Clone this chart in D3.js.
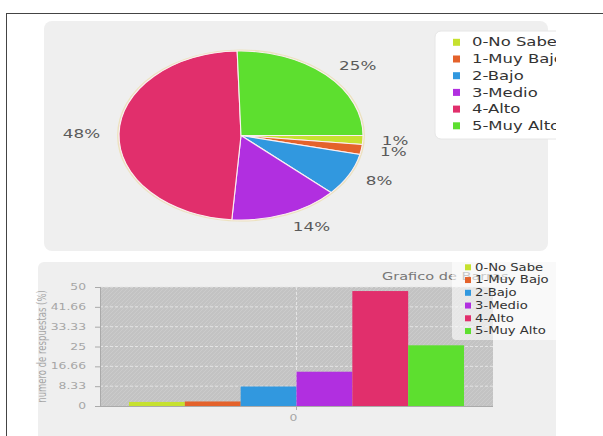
<!DOCTYPE html>
<html>
<head>
<meta charset="utf-8">
<script src="https://cdn.jsdelivr.net/npm/d3@7"></script>
<style>
  html, body { margin: 0; padding: 0; background: #fff; }
  svg { display: block; font-family: "DejaVu Sans", Verdana, sans-serif; }
</style>
</head>
<body>
<svg id="chart" width="603" height="436"></svg>
<script>
// ---- data ----
const categories = ["0-No Sabe", "1-Muy Bajo", "2-Bajo", "3-Medio", "4-Alto", "5-Muy Alto"];
const values = [1.7, 1.9, 8.2, 14.4, 48.3, 25.5];
const colors = ["#c6e12f", "#e4622b", "#3198df", "#b12fe0", "#e12f6c", "#5ddf2f"];
const xCategories = ["0"];
const yTickValues = [0, 8.33, 16.66, 25, 33.33, 41.66, 50];
const yTickLabels = ["0", "8.33", "16.66", "25", "33.33", "41.66", "50"];
const barTitle = "Grafico de Barras";
const yAxisTitle = "numero de respuestas (%)";

const svg = d3.select("#chart");
const SX = 1.33; // horizontal stretch of text in reference

function addText(parent, o) {
  return parent.append("text")
    .attr("transform", `translate(${o.x},${o.y}) scale(${o.sx || SX},1)` + (o.rotate ? ` rotate(${o.rotate})` : ""))
    .attr("text-anchor", o.anchor || "start")
    .attr("dominant-baseline", "central")
    .attr("font-size", o.size)
    .attr("fill", o.fill)
    .text(o.text);
}

const defs = svg.append("defs");
defs.append("clipPath").attr("id", "clipR")
  .append("rect").attr("x", 0).attr("y", 0).attr("width", 556).attr("height", 436);
const pat = defs.append("pattern").attr("id", "hatch")
  .attr("patternUnits", "userSpaceOnUse").attr("width", 4).attr("height", 4);
pat.append("rect").attr("width", 4).attr("height", 4).attr("fill", "#c3c3c3");
pat.append("path").attr("d", "M-1,1 l2,-2 M0,4 l4,-4 M3,5 l2,-2")
  .attr("stroke", "#cbcbcb").attr("stroke-width", 1);

// outer frame
svg.append("rect").attr("x", 6.5).attr("y", 13.5).attr("width", 700).attr("height", 500)
  .attr("fill", "#fff").attr("stroke", "#444").attr("stroke-width", 1);

// ---------------- PIE ----------------
svg.append("rect").attr("x", 44).attr("y", 21).attr("width", 504).attr("height", 230)
  .attr("rx", 8).attr("fill", "#efefef");

const cx = 241, cy = 135.5, rx = 122, ry = 84.5;
const pie = d3.pie().sort(null).value(d => d)
  .startAngle(Math.PI / 2).endAngle(Math.PI / 2 + 2 * Math.PI);
const arcs = pie(values);
const arc = d3.arc().innerRadius(0).outerRadius(ry);

const pg = svg.append("g").attr("transform", `translate(${cx},${cy}) scale(${rx / ry},1)`);
pg.append("circle").attr("r", ry + 0.8).attr("fill", "none")
  .attr("stroke", "#ece2bf").attr("stroke-width", 1.6).attr("vector-effect", "non-scaling-stroke");
pg.selectAll("path.slice").data(arcs).enter().append("path")
  .attr("class", "slice")
  .attr("d", arc)
  .attr("fill", (d, i) => colors[i])
  .attr("stroke", "#fbeff2").attr("stroke-width", 1.1)
  .attr("vector-effect", "non-scaling-stroke");

const lr = 1.155;
arcs.forEach((d, i) => {
  const a = (d.startAngle + d.endAngle) / 2;
  const x = cx + Math.sin(a) * rx * lr;
  const y = cy - Math.cos(a) * ry * lr;
  addText(svg, {
    x, y, text: Math.floor(values[i]) + "%", size: 12, fill: "#5a5a5a",
    anchor: Math.sin(a) >= 0 ? "start" : "end", sx: 1.4
  });
});

// pie legend
const pl = svg.append("g").attr("clip-path", "url(#clipR)");
pl.append("rect").attr("x", 435).attr("y", 31).attr("width", 140).attr("height", 108)
  .attr("rx", 6).attr("fill", "#fff").attr("stroke", "#e6e6e6").attr("stroke-width", 1);
categories.forEach((c, i) => {
  const y = 42.3 + i * 16.7;
  pl.append("rect").attr("x", 453).attr("y", y - 3.5).attr("width", 7).attr("height", 7)
    .attr("fill", colors[i]);
  addText(pl, { x: 472, y, text: c, size: 12, fill: "#333", sx: 1.37 });
});

// ---------------- BAR ----------------
const bg = svg.append("g").attr("clip-path", "url(#clipR)");
bg.append("rect").attr("x", 38).attr("y", 262).attr("width", 560).attr("height", 200)
  .attr("rx", 6).attr("fill", "#efefef");

const plot = { left: 100, right: 493, top: 287, bottom: 406 };
const y = d3.scaleLinear().domain([0, 50]).range([plot.bottom, plot.top]);
const x0 = d3.scaleBand().domain(xCategories).range([plot.left, plot.right])
  .paddingInner(0).paddingOuter(0.0866);
const x1 = d3.scaleBand().domain(categories).range([0, x0.bandwidth()]).padding(0);

bg.append("rect").attr("x", plot.left).attr("y", plot.top)
  .attr("width", plot.right - plot.left).attr("height", plot.bottom - plot.top)
  .attr("fill", "url(#hatch)");

// gridlines
bg.selectAll("line.grid").data(yTickValues.filter(v => v > 0)).enter().append("line")
  .attr("x1", plot.left).attr("x2", plot.right)
  .attr("y1", d => y(d)).attr("y2", d => y(d))
  .attr("stroke", "#e4e4e4").attr("stroke-width", 1).attr("stroke-dasharray", "3,2");
xCategories.forEach(c => {
  const xc = x0(c) + x0.bandwidth() / 2;
  bg.append("line").attr("x1", xc).attr("x2", xc).attr("y1", plot.top).attr("y2", plot.bottom)
    .attr("stroke", "#e4e4e4").attr("stroke-width", 1).attr("stroke-dasharray", "3,2");
});

// bars
const groups = bg.selectAll("g.cat").data(xCategories).enter().append("g")
  .attr("transform", d => `translate(${x0(d)},0)`);
groups.selectAll("rect").data(categories.map((c, i) => ({ c, v: values[i], i }))).enter()
  .append("rect")
  .attr("x", d => x1(d.c))
  .attr("y", d => y(d.v))
  .attr("width", x1.bandwidth())
  .attr("height", d => y(0) - y(d.v))
  .attr("fill", d => colors[d.i]);

// axes
bg.append("line").attr("x1", plot.left + 0.5).attr("x2", plot.left + 0.5)
  .attr("y1", plot.top).attr("y2", plot.bottom).attr("stroke", "#aaa");
bg.append("line").attr("x1", plot.left - 5).attr("x2", plot.right)
  .attr("y1", plot.bottom + 0.5).attr("y2", plot.bottom + 0.5).attr("stroke", "#aaa");
yTickValues.forEach((v, i) => {
  bg.append("line").attr("x1", plot.left - 5).attr("x2", plot.left)
    .attr("y1", y(v) + 0.5).attr("y2", y(v) + 0.5).attr("stroke", "#aaa");
  addText(bg, { x: 86, y: y(v), text: yTickLabels[i], size: 9.5, fill: "#a6a6a6", anchor: "end", sx: 1.3 });
});
xCategories.forEach(c => {
  const xc = x0(c) + x0.bandwidth() / 2;
  bg.append("line").attr("x1", xc).attr("x2", xc).attr("y1", plot.bottom).attr("y2", plot.bottom + 4)
    .attr("stroke", "#aaa");
  addText(bg, { x: xc - 3, y: 418, text: c, size: 9.5, fill: "#a6a6a6", anchor: "middle", sx: 1.3 });
});
addText(bg, { x: 41, y: 346.5, text: yAxisTitle, size: 8.5, fill: "#a6a6a6", anchor: "middle", sx: 1.45, rotate: -90 });

// title
addText(bg, { x: 382, y: 276, text: barTitle, size: 11, fill: "#777", sx: 1.32 });

// bar legend (semi-transparent, drawn over the title as in the reference)
bg.append("rect").attr("x", 452).attr("y", 257).attr("width", 120).attr("height", 83)
  .attr("rx", 4).attr("fill", "#fff").attr("fill-opacity", 0.6);
categories.forEach((c, i) => {
  const yy = 267.3 + i * 12.75;
  bg.append("rect").attr("x", 465).attr("y", yy - 3).attr("width", 6).attr("height", 6)
    .attr("fill", colors[i]);
  addText(bg, { x: 475, y: yy, text: c, size: 10, fill: "#333", sx: 1.32 });
});
</script>
</body>
</html>
